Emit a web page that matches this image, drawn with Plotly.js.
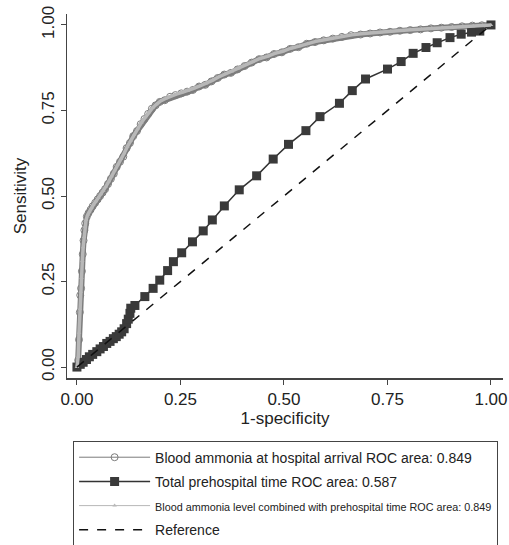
<!DOCTYPE html>
<html><head><meta charset="utf-8">
<script src="https://cdn.plot.ly/plotly-3.0.1.min.js"></script>
<style>html,body{margin:0;padding:0;background:#fff}</style>
</head><body><div id="chart" style="width:509px;height:545px"></div>
<script>
// Blood ammonia at hospital arrival ROC curve
const ammoniaX = [0,0.003,0.005,0.007,0.008,0.010,0.012,0.014,0.016,0.018,0.020,0.024,0.028,0.033,0.038,0.044,0.050,0.056,0.062,0.068,0.075,0.082,0.089,0.096,0.104,0.112,0.120,0.128,0.136,0.145,0.154,0.163,0.172,0.181,0.190,0.200,0.212,0.225,0.238,0.252,0.266,0.280,0.295,0.310,0.325,0.340,0.356,0.372,0.388,0.405,0.422,0.440,0.458,0.476,0.495,0.515,0.535,0.555,0.575,0.596,0.618,0.640,0.662,0.685,0.708,0.732,0.756,0.780,0.805,0.830,0.855,0.880,0.905,0.930,0.955,0.978,1.0];
const ammoniaY = [0,0.02,0.08,0.16,0.21,0.23,0.28,0.33,0.37,0.40,0.42,0.44,0.45,0.46,0.47,0.48,0.49,0.50,0.51,0.52,0.535,0.55,0.565,0.585,0.60,0.615,0.64,0.655,0.675,0.69,0.71,0.725,0.74,0.755,0.765,0.775,0.78,0.79,0.795,0.80,0.805,0.81,0.82,0.825,0.835,0.845,0.855,0.86,0.87,0.88,0.89,0.90,0.905,0.915,0.92,0.93,0.935,0.945,0.95,0.955,0.96,0.965,0.97,0.972,0.975,0.978,0.98,0.983,0.985,0.987,0.99,0.992,0.994,0.996,0.998,0.999,1.0];
// Blood ammonia level combined with prehospital time ROC curve
const combinedX = [0,0.003,0.005,0.007,0.009,0.011,0.013,0.015,0.017,0.019,0.022,0.026,0.030,0.035,0.040,0.046,0.052,0.058,0.064,0.070,0.077,0.084,0.091,0.098,0.106,0.114,0.122,0.130,0.138,0.147,0.156,0.165,0.174,0.183,0.192,0.202,0.214,0.227,0.240,0.254,0.268,0.282,0.297,0.312,0.327,0.342,0.358,0.374,0.390,0.407,0.424,0.442,0.460,0.478,0.497,0.517,0.537,0.557,0.577,0.598,0.620,0.642,0.664,0.687,0.710,0.734,0.758,0.782,0.807,0.832,0.857,0.882,0.907,0.932,0.957,0.980,1.0];
const combinedY = [0,0.03,0.10,0.17,0.22,0.26,0.31,0.35,0.38,0.41,0.43,0.445,0.455,0.465,0.475,0.485,0.495,0.505,0.515,0.528,0.543,0.558,0.575,0.592,0.608,0.625,0.645,0.662,0.68,0.697,0.715,0.73,0.745,0.758,0.768,0.778,0.785,0.792,0.798,0.803,0.808,0.815,0.822,0.829,0.838,0.848,0.857,0.864,0.873,0.883,0.892,0.902,0.908,0.917,0.923,0.932,0.938,0.946,0.952,0.957,0.962,0.967,0.971,0.974,0.977,0.979,0.982,0.984,0.986,0.988,0.991,0.993,0.995,0.997,0.998,0.999,1.0];
// Total prehospital time ROC curve
const timeX = [0,0.008,0.015,0.023,0.030,0.038,0.048,0.056,0.064,0.072,0.080,0.088,0.095,0.102,0.108,0.114,0.120,0.124,0.128,0.130,0.140,0.164,0.184,0.200,0.219,0.233,0.253,0.279,0.305,0.327,0.356,0.392,0.434,0.474,0.511,0.553,0.587,0.634,0.665,0.697,0.750,0.783,0.812,0.843,0.870,0.901,0.928,0.953,0.973,1.0];
const timeY = [0,0.008,0.014,0.022,0.030,0.037,0.045,0.053,0.060,0.069,0.075,0.083,0.089,0.096,0.103,0.112,0.127,0.140,0.157,0.172,0.180,0.206,0.230,0.254,0.282,0.308,0.334,0.366,0.398,0.430,0.471,0.518,0.559,0.608,0.651,0.691,0.732,0.771,0.808,0.842,0.871,0.893,0.917,0.934,0.948,0.963,0.973,0.979,0.982,1.0];
// Reference line
const refX = [0,1];
const refY = [0,1];
const tickVals = [0,0.25,0.5,0.75,1];
const tickText = ["0.00","0.25","0.50","0.75","1.00"];
const names = [
  "Blood ammonia at hospital arrival ROC area: 0.849",
  "Total prehospital time ROC area: 0.587",
  "<span style=\"font-size:10.8px\">Blood ammonia level combined with prehospital time ROC area: 0.849</span>",
  "Reference"
];

const FONT = "Arial, 'Liberation Sans', sans-serif";
const traces = [
  {x: ammoniaX, y: ammoniaY, mode: "lines", line: {color: "#7c7c7c", width: 6}, showlegend: false, hoverinfo: "skip", legendgroup: "a"},
  {x: ammoniaX, y: ammoniaY, mode: "lines+markers", name: names[0], legendgroup: "a", line: {color: "#7c7c7c", width: 1},
   marker: {symbol: "circle-open", size: 7, color: "#7c7c7c", line: {width: 1}}},
  {x: timeX, y: timeY, mode: "lines+markers", name: names[1], legendgroup: "b", line: {color: "#333333", width: 1.5},
   marker: {symbol: "square", size: 9, color: "#3a3a3a"}},
  {x: combinedX, y: combinedY, mode: "lines", line: {color: "#b8b8b8", width: 3.5}, showlegend: false, hoverinfo: "skip", legendgroup: "c"},
  {x: combinedX, y: combinedY, mode: "lines+markers", name: names[2], legendgroup: "c", line: {color: "#b8b8b8", width: 1},
   marker: {symbol: "triangle-up", size: 4, color: "#b8b8b8"}},
  {x: refX, y: refY, mode: "lines", name: names[3], legendgroup: "d", line: {color: "#111111", width: 1.5, dash: "dash"}}
];

const layout = {
  width: 509, height: 545,
  margin: {l: 67, r: 6, t: 14, b: 167, autoexpand: false},
  paper_bgcolor: "#ffffff", plot_bgcolor: "#ffffff",
  font: {family: FONT, color: "#222222", size: 14},
  xaxis: {range: [-0.024, 1.029], tickvals: tickVals, ticktext: tickText, showgrid: false, zeroline: false,
    showline: true, linecolor: "#444444", linewidth: 1.5, ticks: "outside", ticklen: 5, tickcolor: "#444444",
    tickfont: {size: 17, family: FONT, color: "#222"}, automargin: false,
    title: {text: "1-specificity", font: {size: 17, family: FONT, color: "#222"}, standoff: 0}},
  yaxis: {range: [-0.032, 1.032], tickvals: tickVals, ticktext: tickText, showgrid: false, zeroline: false,
    showline: true, linecolor: "#444444", linewidth: 1.5, ticks: "outside", ticklen: 5, tickcolor: "#444444",
    tickangle: -90, tickfont: {size: 17, family: FONT, color: "#222"}, automargin: false,
    title: {text: "Sensitivity", font: {size: 17, family: FONT, color: "#222"}, standoff: 8}},
  legend: {x: 0.014, y: -0.172, xanchor: "left", yanchor: "top", bordercolor: "#444444", borderwidth: 1,
    bgcolor: "#ffffff", itemwidth: 71, tracegroupgap: 3, font: {size: 14, family: FONT, color: "#222"}},
  showlegend: true
};
Plotly.newPlot("chart", traces, layout, {displayModeBar: false, staticPlot: true});
</script>
</body></html>
